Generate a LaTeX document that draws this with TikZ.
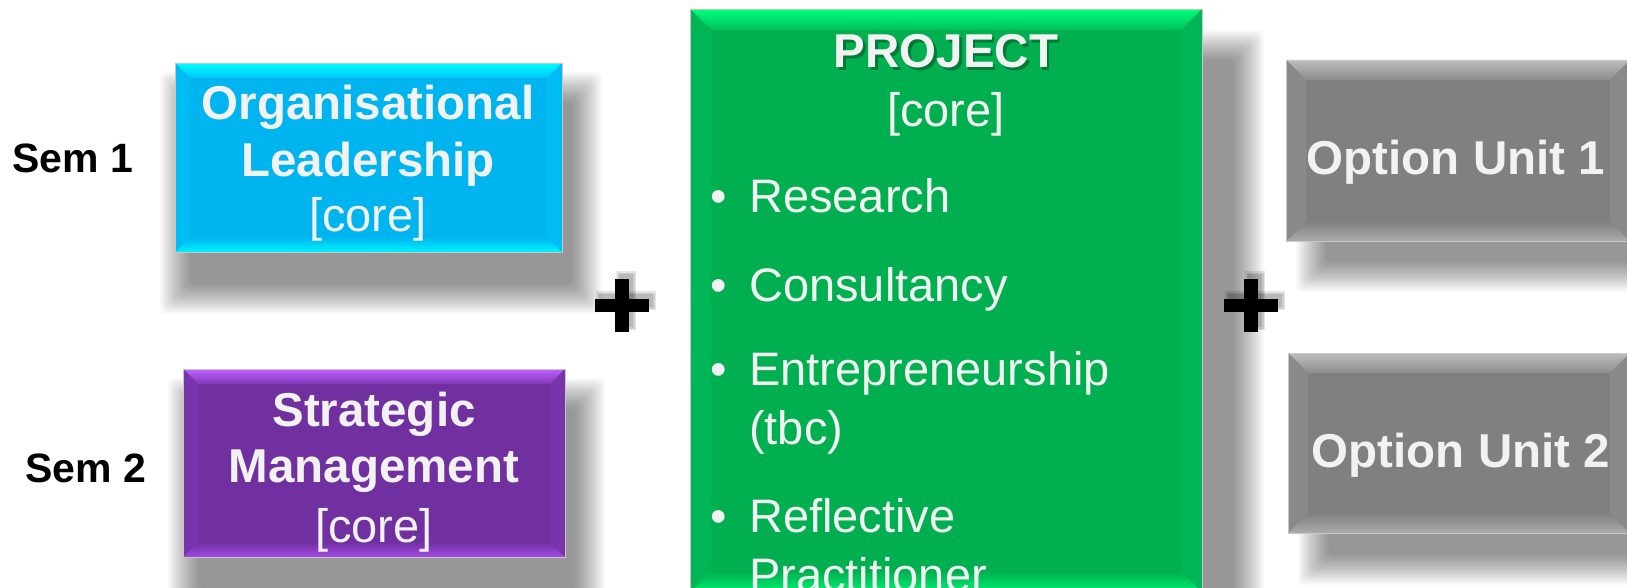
\documentclass[tikz,border=0pt]{standalone}
\usepackage{fontspec}
\setmainfont{Liberation Sans}
\definecolor{txt}{HTML}{F2F2F2}
\definecolor{bluemain}{HTML}{00B5EF}
\definecolor{bluetop}{HTML}{00FFFF}
\definecolor{bluetopb}{HTML}{00C4F6}
\definecolor{bluebot}{HTML}{00F2FF}
\definecolor{blueside}{HTML}{00BCF5}
\definecolor{purmain}{HTML}{7030A0}
\definecolor{purtop}{HTML}{C060FF}
\definecolor{purtopb}{HTML}{8038B6}
\definecolor{purbot}{HTML}{A448E4}
\definecolor{purside}{HTML}{7834AA}
\definecolor{grnmain}{HTML}{00B050}
\definecolor{grntop}{HTML}{00FF80}
\definecolor{grntopb}{HTML}{00C058}
\definecolor{grnbot}{HTML}{00F070}
\definecolor{grnside}{HTML}{00B656}
\definecolor{grymain}{HTML}{808080}
\definecolor{grytop}{HTML}{BDBDBD}
\definecolor{grytopb}{HTML}{8C8C8C}
\definecolor{grybot}{HTML}{ABABAB}
\definecolor{gryside}{HTML}{8A8A8A}
\newcommand{\bev}[7]{%
  \shade[top color=#3, bottom color=#4] (#1.north west) -- (#1.north east) -- ([shift={(-#2,#2)}]#1.north east) -- ([shift={(#2,#2)}]#1.north west) -- cycle;
  \shade[top color=#5, bottom color=#6] (#1.south west) -- (#1.south east) -- ([shift={(-#2,-#2)}]#1.south east) -- ([shift={(#2,-#2)}]#1.south west) -- cycle;
  \fill[#7] (#1.north west) -- ([shift={(#2,#2)}]#1.north west) -- ([shift={(#2,-#2)}]#1.south west) -- (#1.south west) -- cycle;
  \fill[#7] (#1.north east) -- ([shift={(-#2,#2)}]#1.north east) -- ([shift={(-#2,-#2)}]#1.south east) -- (#1.south east) -- cycle;
  \draw[black!22, line width=0.9pt] (#1.north west) rectangle (#1.south east);
}
\newcommand{\softshadow}[4]{%
  \foreach \i in {0,...,19}{
    \fill[black, opacity=0.022, rounded corners=6pt] (#1+1.6*\i,#2+1.6*\i) rectangle (#3-1.6*\i,#4-1.6*\i);
  }
}
\begin{document}
\begin{tikzpicture}[x=1pt,y=-1pt,
  box/.style={rectangle, inner sep=0pt, outer sep=0pt},
  lbl/.style={anchor=base, text=txt, inner sep=0pt},
  bold/.style={font=\bfseries\fontsize{47.5}{56}\selectfont},
  reg/.style={font=\fontsize{47}{56}\selectfont},
  sem/.style={anchor=base, inner sep=0pt, font=\bfseries\fontsize{41}{49}\selectfont},
  item/.style={anchor=base west, text=txt, inner sep=0pt, font=\fontsize{47}{56}\selectfont},
  bul/.style={anchor=base, text=txt, inner sep=0pt, font=\fontsize{47}{56}\selectfont}]
\useasboundingbox (0,0) rectangle (1627,588);
\fill[white] (0,0) rectangle (1627,588);
\clip (0,0) rectangle (1627,588);

% soft shadows
\softshadow{160}{72}{602}{314}
\softshadow{168}{378}{605}{619}
\softshadow{700}{30}{1264}{650}
\softshadow{1296}{72}{1665}{292}
\softshadow{1298}{365}{1665}{585}

% boxes
\node[box, fill=bluemain, minimum width=387pt, minimum height=189pt] (ol) at (368.5,157.5) {};
\bev{ol}{15}{bluetop}{bluetopb}{bluemain}{bluebot}{blueside}
\node[box, fill=purmain, minimum width=382pt, minimum height=188pt] (sm) at (374,463) {};
\bev{sm}{15}{purtop}{purtopb}{purmain}{purbot}{purside}
\node[box, fill=grnmain, minimum width=512pt, minimum height=583pt] (pj) at (946,300.5) {};
\bev{pj}{21}{grntop}{grntopb}{grnmain}{grnbot}{grnside}
\node[box, fill=grymain, minimum width=344pt, minimum height=181pt] (o1) at (1458,150.5) {};
\bev{o1}{20}{grytop}{grytopb}{grymain}{grybot}{gryside}
\node[box, fill=grymain, minimum width=342pt, minimum height=180pt] (o2) at (1459,443) {};
\bev{o2}{20}{grytop}{grytopb}{grymain}{grybot}{gryside}

% semester labels
\node[sem] (s1) at (73,173) {Sem 1};
\node[sem] (s2) at (86,482) {Sem 2};

% blue box text
\node[lbl, bold] (ol1) at (368,120) {Organisational};
\node[lbl, bold] (ol2) at (368,177) {Leadership};
\node[lbl, reg] (ol3) at (368,232) {[core]};

% purple box text
\node[lbl, bold] (sm1) at (374,426) {Strategic};
\node[lbl, bold] (sm2) at (374,482) {Management};
\node[lbl, reg] (sm3) at (374,542) {[core]};

% green box text
\node[anchor=base, inner sep=0pt, bold, text=black, opacity=0.3] (pjs) at (948.5,70.5) {PROJECT};
\node[lbl, bold] (pj1) at (946,68) {PROJECT};
\node[lbl, reg] (pj2) at (946,127) {[core]};
\node[bul] (b1) at (719,213) {•};
\node[item] (i1) at (749,213) {Research};
\node[bul] (b2) at (719,301) {•};
\node[item] (i2) at (749,301) {Consultancy};
\node[bul] (b3) at (719,385) {•};
\node[item] (i3) at (749,385) {Entrepreneurship};
\node[item] (i3b) at (749,444) {(tbc)};
\node[bul] (b4) at (719,532) {•};
\node[item] (i4) at (749,532) {Reflective};
\node[item] (i4b) at (749,591) {Practitioner};

% option boxes text
\node[lbl, bold] (o1t) at (1456,175) {Option Unit 1};
\node[lbl, bold] (o2t) at (1461,467) {Option Unit 2};

% plus signs
\foreach \cx in {622,1251}{
  \foreach \d in {0,1.5,3}{
    \fill[black, opacity=0.1] (\cx-27+4-\d,299-5-\d) rectangle (\cx+27+4+\d,312-5+\d);
    \fill[black, opacity=0.1] (\cx-7+4-\d,279-5-\d) rectangle (\cx+7+4+\d,332-5+\d);
  }
  \fill[black] (\cx-27,299) rectangle (\cx+27,312);
  \fill[black] (\cx-7,279) rectangle (\cx+7,332);
}
\end{tikzpicture}
\end{document}
